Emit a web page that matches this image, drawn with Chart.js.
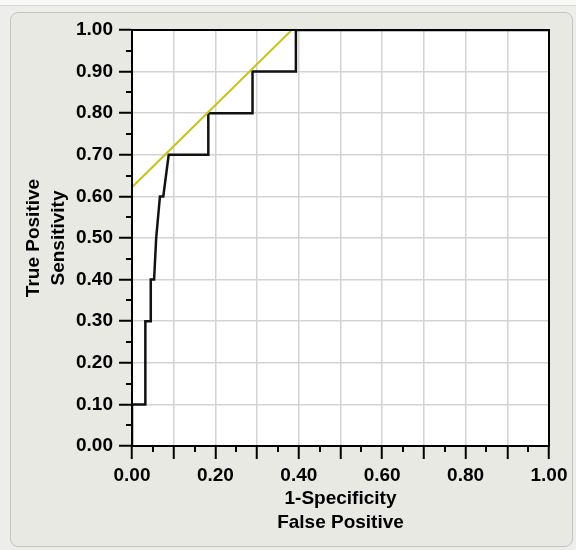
<!DOCTYPE html>
<html>
<head>
<meta charset="utf-8">
<script src="https://cdn.jsdelivr.net/npm/chart.js@4"></script>
<style>
  html, body { margin: 0; padding: 0; }
  body { width: 576px; height: 550px; background: #ededeb; position: relative; overflow: hidden; }
  .topStrip { position: absolute; left: 0; top: 0; width: 576px; height: 5px; background: #f8f8f6; border-bottom: 1px solid #d8d8d4; }
  .panel { position: absolute; left: 10px; top: 12px; width: 561px; height: 533px; background: #e9e9e4; border: 1px solid #c4c4bf; border-radius: 8px; }
  #roc { position: absolute; left: 0; top: 0; }
</style>
</head>
<body>
<div class="topStrip"></div>
<div class="panel"></div>
<canvas id="roc" width="576" height="550"></canvas>
<script>
// ROC curve
const rocFpr = [0, 0, 0.032, 0.032, 0.045, 0.045, 0.053, 0.058, 0.067, 0.075, 0.088, 0.183, 0.183, 0.289, 0.289, 0.393, 0.393, 1.0];
const rocTpr = [0, 0.10, 0.10, 0.30, 0.30, 0.40, 0.40, 0.50, 0.60, 0.60, 0.70, 0.70, 0.80, 0.80, 0.90, 0.90, 1.00, 1.00];

// tangent line (slope ~1)
const tangentX = [0, 0.383];
const tangentY = [0.622, 1.0];

const xTickLabels = ['0.00', '0.20', '0.40', '0.60', '0.80', '1.00'];
const yTickLabels = ['0.00', '0.10', '0.20', '0.30', '0.40', '0.50', '0.60', '0.70', '0.80', '0.90', '1.00'];

const xTitle = ['1-Specificity', 'False Positive'];
const yTitle = ['True Positive', 'Sensitivity'];

const tickFont = { family: 'Liberation Sans', size: 19, weight: 'bold' };
const titleFont = { family: 'Liberation Sans', size: 19, weight: 'bold', lineHeight: 1.28 };

// white plot background, black frame and the short 0.05 ticks
const plotFrame = {
    id: 'plotFrame',
    beforeDraw(chart) {
        const { ctx, chartArea: a } = chart;
        ctx.save();
        ctx.fillStyle = '#ffffff';
        ctx.fillRect(a.left, a.top, a.right - a.left, a.bottom - a.top);
        ctx.restore();
    },
    afterDraw(chart) {
        const { ctx, chartArea: a, scales } = chart;
        ctx.save();
        ctx.strokeStyle = '#000000';
        ctx.lineWidth = 2;
        ctx.strokeRect(a.left, a.top, a.right - a.left, a.bottom - a.top);
        ctx.beginPath();
        for (let i = 0; i < 10; i++) {
            const v = 0.05 + i * 0.1;
            const px = Math.round(scales.x.getPixelForValue(v));
            ctx.moveTo(px, a.bottom);
            ctx.lineTo(px, a.bottom + 6);
            const py = Math.round(scales.y.getPixelForValue(v));
            ctx.moveTo(a.left, py);
            ctx.lineTo(a.left - 6, py);
        }
        ctx.stroke();
        ctx.restore();
    }
};

function gridColor(context) {
    const v = context.tick ? context.tick.value : 0;
    if (Math.abs(v) < 1e-6 || Math.abs(v - 1) < 1e-6) return 'rgba(0,0,0,0)';
    return '#d3d3d3';
}

new Chart(document.getElementById('roc'), {
    type: 'scatter',
    data: {
        datasets: [{
            label: 'Tangent',
            data: tangentX.map((x, i) => ({ x: x, y: tangentY[i] })),
            showLine: true,
            borderColor: '#c8c21c',
            borderWidth: 2,
            pointRadius: 0
        }, {
            label: 'ROC',
            data: rocFpr.map((x, i) => ({ x: x, y: rocTpr[i] })),
            showLine: true,
            borderColor: '#111111',
            borderWidth: 2.5,
            pointRadius: 0
        }]
    },
    options: {
        responsive: false,
        animation: false,
        devicePixelRatio: 1,
        layout: { padding: { left: 0, right: 27, top: 30, bottom: 0 } },
        plugins: {
            legend: { display: false },
            tooltip: { enabled: false }
        },
        scales: {
            x: {
                type: 'linear',
                min: 0,
                max: 1,
                afterFit: scale => { scale.height = 104; },
                ticks: {
                    stepSize: 0.1,
                    color: '#000000',
                    font: tickFont,
                    padding: 5,
                    maxRotation: 0,
                    autoSkip: false,
                    callback: function (value) {
                        const s = value.toFixed(2);
                        return xTickLabels.includes(s) ? s : '';
                    }
                },
                grid: {
                    color: gridColor,
                    lineWidth: 1.5,
                    tickColor: '#000000',
                    tickLength: 13,
                    tickWidth: 2
                },
                border: { display: true, color: '#000000', width: 2 },
                title: {
                    display: true,
                    text: xTitle,
                    color: '#000000',
                    font: titleFont,
                    padding: { top: 0, bottom: 15 }
                }
            },
            y: {
                type: 'linear',
                min: 0,
                max: 1,
                afterFit: scale => { scale.width = 132; },
                ticks: {
                    stepSize: 0.1,
                    color: '#000000',
                    font: tickFont,
                    padding: 6,
                    autoSkip: false,
                    callback: function (value) {
                        const s = value.toFixed(2);
                        return yTickLabels.includes(s) ? s : '';
                    }
                },
                grid: {
                    color: gridColor,
                    lineWidth: 1.5,
                    tickColor: '#000000',
                    tickLength: 13,
                    tickWidth: 2
                },
                border: { display: true, color: '#000000', width: 2 },
                title: {
                    display: true,
                    text: yTitle,
                    color: '#000000',
                    font: titleFont,
                    padding: { top: 22, bottom: 0 }
                }
            }
        }
    },
    plugins: [plotFrame]
});
</script>
</body>
</html>
